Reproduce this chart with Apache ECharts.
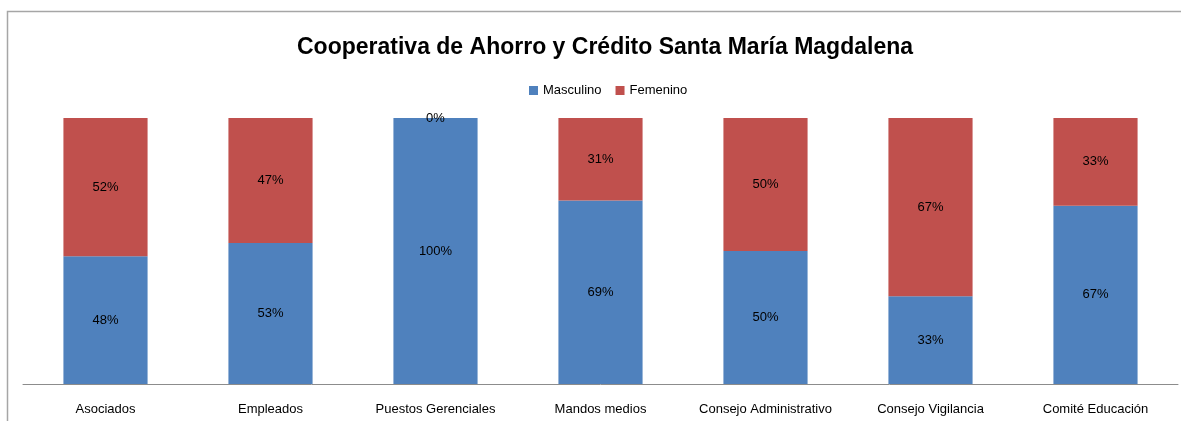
<!DOCTYPE html>
<html>
<head>
<meta charset="utf-8">
<script src="https://cdn.jsdelivr.net/npm/echarts@6/dist/echarts.min.js"></script>
<style>
  html, body { margin: 0; padding: 0; background: #fff; }
  #chart { width: 1181px; height: 421px; }
</style>
</head>
<body>
<div id="chart"></div>
<script>
const categories = ['Asociados', 'Empleados', 'Puestos Gerenciales', 'Mandos medios', 'Consejo Administrativo', 'Consejo Vigilancia', 'Comité Educación']
const masculino = [48, 53, 100, 69, 50, 33, 67]
const femenino = [52, 47, 0, 31, 50, 67, 33]

const font = "'Liberation Sans', Arial, sans-serif"

const chart = echarts.init(document.getElementById('chart'))
chart.setOption({
  animation: false,
  color: ['#4f81bd', '#c0504d'],
  graphic: [{
    type: 'rect',
    shape: { x: 7.5, y: 11.5, width: 1200, height: 440 },
    style: { fill: 'none', stroke: '#a6a6a6', lineWidth: 1.5 },
    silent: true
  }],
  title: {
    text: 'Cooperativa de Ahorro y Crédito Santa María Magdalena',
    left: 292,
    top: 31,
    textStyle: { fontFamily: font, fontSize: 23, fontWeight: 'bold', color: '#000' }
  },
  legend: {
    top: 79,
    left: 524,
    itemWidth: 9,
    itemHeight: 9,
    itemGap: 14,
    icon: 'rect',
    textStyle: { fontFamily: font, fontSize: 13, color: '#000' },
    data: ['Masculino', 'Femenino']
  },
  grid: { left: 23, right: 3, top: 118, bottom: 37 },
  xAxis: {
    type: 'category',
    data: categories,
    axisTick: { show: false },
    axisLine: { lineStyle: { color: '#8c8c8c', width: 1 } },
    axisLabel: { fontFamily: font, fontSize: 13, color: '#000', margin: 19, interval: 0 }
  },
  yAxis: {
    type: 'value',
    min: 0,
    max: 100,
    show: false
  },
  series: [
    {
      name: 'Masculino',
      type: 'bar',
      stack: 'total',
      barWidth: '51%',
      data: masculino,
      label: { show: true, position: 'inside', formatter: '{c}%', fontFamily: font, fontSize: 13, color: '#000' }
    },
    {
      name: 'Femenino',
      type: 'bar',
      stack: 'total',
      barWidth: '51%',
      data: femenino,
      label: { show: true, position: 'inside', formatter: '{c}%', fontFamily: font, fontSize: 13, color: '#000' }
    }
  ]
})
</script>
</body>
</html>
